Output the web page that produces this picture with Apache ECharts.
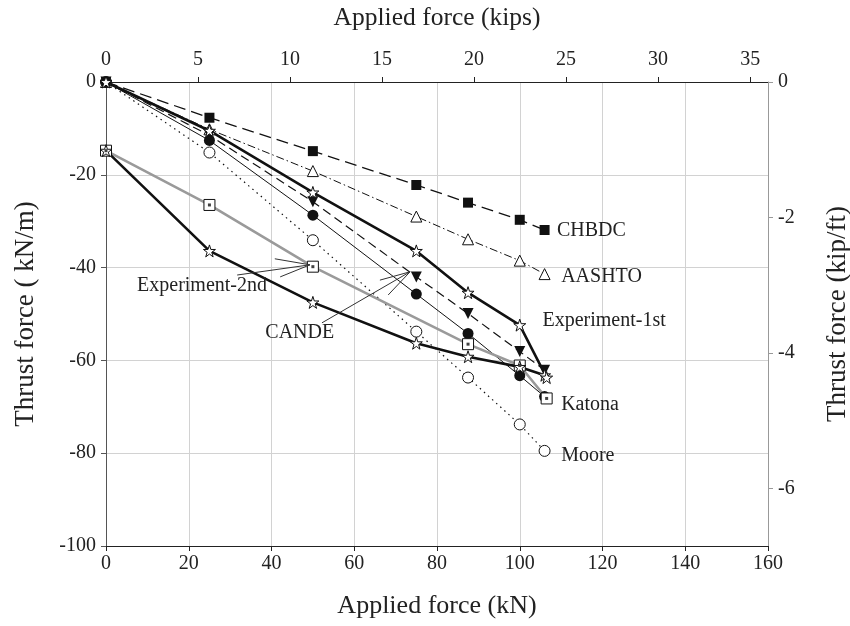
<!DOCTYPE html>
<html><head><meta charset="utf-8">
<script src="https://cdn.jsdelivr.net/npm/echarts@6/dist/echarts.min.js"></script>
<style>html,body{margin:0;padding:0;background:#fff}#c{width:850px;height:626px}</style>
</head><body><div id="c"></div>
<script>
// ---- data (x: applied force kN, y: thrust force kN/m) ----
const chbdc   = [[0,0],[25,-7.7],[50,-14.9],[75,-22.2],[87.5,-26.0],[100,-29.7],[106,-31.9]];
const aashto  = [[0,0],[25,-10.2],[50,-19.2],[75,-29.0],[87.5,-33.9],[100,-38.5],[106,-41.4]];
const exp1st  = [[0,0],[25,-10.5],[50,-23.8],[75,-36.4],[87.5,-45.4],[100,-52.4],[106.5,-63.7]];
const cande   = [[0,0],[25,-11.5],[50,-25.8],[75,-42.0],[87.5,-49.9],[100,-58.1],[106,-62.1]];
const katona  = [[0,0],[25,-12.6],[50,-28.7],[75,-45.7],[87.5,-54.2],[100,-63.3],[106,-67.8]];
const moore   = [[0,0],[25,-15.2],[50,-34.1],[75,-53.8],[87.5,-63.7],[100,-73.8],[106,-79.5]];
const exp2nd  = [[0,-14.8],[25,-36.4],[50,-47.5],[75,-56.3],[87.5,-59.2],[100,-61.4],[106,-63.2]];
const grayBox = [[0,-14.8],[25,-26.5],[50,-39.8],[87.5,-56.5],[100,-61.1],[106.5,-68.2]];

const xTicksKN   = [0,20,40,60,80,100,120,140,160];
const xTicksKips = [0,5,10,15,20,25,30,35];
const yTicksKNm  = [0,-20,-40,-60,-80,-100];
const yTicksKipFt = [0,-2,-4,-6];

// text annotations: [label, x, y] in data units (left-middle anchor)
const labels = [
  ['CHBDC', 109.0, -32.0],
  ['AASHTO', 110.0, -42.0],
  ['Experiment-1st', 105.5, -51.5],
  ['Experiment-2nd', 7.5, -44.0],
  ['CANDE', 38.5, -54.0],
  ['Katona', 110.0, -69.5],
  ['Moore', 110.0, -80.5]
];
// arrows: polyline points in data units
const arrows = [
  [[31.7,-41.6],[49.3,-39.4]],
  [[40.8,-38.1],[49.3,-39.4],[42.1,-42.0]],
  [[52.2,-51.9],[73.5,-40.9]],
  [[66.2,-42.7],[73.5,-40.9],[68.2,-45.9]]
];

const KN_PER_KIP = 4.448;
const KNM_PER_KIPFT = 14.594;

const FONT = 'Liberation Serif';
const STAR = 'path://M50,0 L61.8,35.4 L99,35.4 L68.8,57.3 L80.3,92.7 L50,70.8 L19.7,92.7 L31.2,57.3 L1,35.4 L38.2,35.4 Z';

const chart = echarts.init(document.getElementById('c'), null, {renderer:'canvas'});

function line(name, data, lineStyle, symbol, size, itemStyle, extra) {
  return Object.assign({
    name, type:'line', data, xAxisIndex:0, yAxisIndex:0,
    symbol, symbolSize:size, showAllSymbol:true,
    lineStyle, itemStyle, animation:false, z:3,
    emphasis:{disabled:true}
  }, extra||{});
}

const option = {
  animation:false,
  backgroundColor:'#fff',
  grid:{left:106, right:82, top:82, bottom:80, containLabel:false, outerBoundsMode:'none'},
  xAxis:[
    {type:'value', position:'bottom', min:0, max:160, interval:20,
     name:'Applied force (kN)', nameLocation:'middle', nameGap:47,
     nameTextStyle:{fontFamily:FONT, fontSize:26, color:'#222'},
     axisLine:{show:true, onZero:false, lineStyle:{color:'#222', width:1}},
     axisTick:{show:true, inside:false, length:5, lineStyle:{color:'#222'}},
     axisLabel:{fontFamily:FONT, fontSize:20, color:'#222', margin:8, customValues:xTicksKN},
     splitLine:{show:true, lineStyle:{color:'#d2d2d2', width:1}}},
    {type:'value', position:'top', min:0, max:160/KN_PER_KIP, interval:5,
     name:'Applied force (kips)', nameLocation:'middle', nameGap:51,
     nameTextStyle:{fontFamily:FONT, fontSize:25.5, color:'#222'},
     axisLine:{show:true, onZero:false, lineStyle:{color:'#222', width:1}},
     axisTick:{show:true, inside:false, length:5, lineStyle:{color:'#222'}, customValues:xTicksKips},
     axisLabel:{fontFamily:FONT, fontSize:20, color:'#222', margin:12, customValues:xTicksKips},
     splitLine:{show:false}}
  ],
  yAxis:[
    {type:'value', position:'left', min:-100, max:0, interval:20,
     name:'Thrust force ( kN/m)', nameLocation:'middle', nameGap:67, nameRotate:90,
     nameTextStyle:{fontFamily:FONT, fontSize:27, color:'#222'},
     axisLine:{show:true, onZero:false, lineStyle:{color:'#555', width:1}},
     axisTick:{show:true, inside:false, length:5, lineStyle:{color:'#555'}},
     axisLabel:{fontFamily:FONT, fontSize:20, color:'#222', margin:10, customValues:yTicksKNm},
     splitLine:{show:true, lineStyle:{color:'#d2d2d2', width:1}}},
    {type:'value', position:'right', min:-100/KNM_PER_KIPFT, max:0,
     name:'Thrust force (kip/ft)', nameLocation:'middle', nameGap:56, nameRotate:90,
     nameTextStyle:{fontFamily:FONT, fontSize:27, color:'#222'},
     axisLine:{show:true, onZero:false, lineStyle:{color:'#999', width:1}},
     axisTick:{show:true, inside:false, length:5, lineStyle:{color:'#999'}, customValues:yTicksKipFt},
     axisLabel:{fontFamily:FONT, fontSize:20, color:'#222', margin:10, customValues:yTicksKipFt},
     splitLine:{show:false}}
  ],
  series:[
    line('CHBDC', chbdc, {color:'#111', width:1.3, type:[12,6]}, 'rect', 10, {color:'#111', borderWidth:0}),
    line('AASHTO', aashto, {color:'#111', width:1, type:[8,3,1.5,3]}, 'triangle', 11, {color:'#fff', borderColor:'#111', borderWidth:1}),
    line('Moore', moore, {color:'#111', width:1.2, type:[1.5,4]}, 'circle', 11, {color:'#fff', borderColor:'#111', borderWidth:1}),
    line('Katona', katona, {color:'#111', width:1}, 'circle', 11, {color:'#111', borderWidth:0}),
    line('CANDE', cande, {color:'#111', width:1.2, type:[9,5]}, 'triangle', 11, {color:'#111', borderWidth:0}, {symbolRotate:180}),
    line('GrayBox', grayBox, {color:'#9a9a9a', width:2.6}, 'rect', 11, {color:'#fff', borderColor:'#111', borderWidth:1}),
    {name:'GrayBoxDot', type:'scatter', data:grayBox, symbol:'rect', symbolSize:3, itemStyle:{color:'#111'}, z:5, animation:false, emphasis:{disabled:true}},
    line('Experiment-2nd', exp2nd, {color:'#111', width:2.6}, STAR, 12, {color:'#fff', borderColor:'#111', borderWidth:1}),
    line('Experiment-1st', exp1st, {color:'#111', width:2.6}, STAR, 12, {color:'#fff', borderColor:'#111', borderWidth:1})
  ]
};
chart.setOption(option);

const g = [];
labels.forEach(([t,x,y])=>{
  const p = chart.convertToPixel({xAxisIndex:0, yAxisIndex:0}, [x,y]);
  g.push({type:'text', x:p[0], y:p[1], z:10,
    style:{text:t, fontFamily:FONT, fontSize:20, fill:'#222', verticalAlign:'middle', align:'left'}});
});
arrows.forEach(pts=>{
  const pp = pts.map(d=>chart.convertToPixel({xAxisIndex:0, yAxisIndex:0}, d));
  g.push({type:'polyline', z:10, shape:{points:pp}, style:{stroke:'#333', lineWidth:1, fill:null}});
});
chart.setOption({graphic:g});
</script></body></html>
